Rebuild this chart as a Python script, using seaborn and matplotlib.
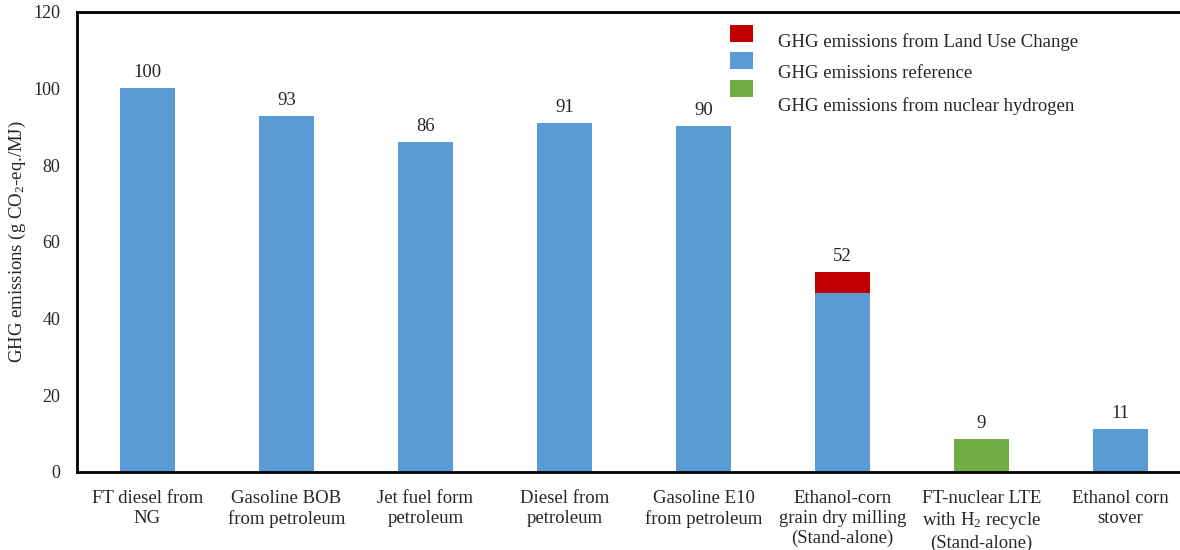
import matplotlib
matplotlib.use("Agg")
import matplotlib.pyplot as plt
from matplotlib.patches import Rectangle
import numpy as np
import pandas as pd
import seaborn as sns

# Fuel pathways and their life-cycle GHG emissions (g CO2-eq./MJ)
categories = [
    "FT diesel from\nNG",
    "Gasoline BOB\nfrom petroleum",
    "Jet fuel form\npetroleum",
    "Diesel from\npetroleum",
    "Gasoline E10\nfrom petroleum",
    "Ethanol-corn\ngrain dry milling\n(Stand-alone)",
    "FT-nuclear LTE\nwith H$_2$ recycle\n(Stand-alone)",
    "Ethanol corn\nstover",
]
reference = [100.2, 92.9, 86.1, 91.0, 90.3, 46.8, 0.0, 11.2]
land_use_change = [0.0, 0.0, 0.0, 0.0, 0.0, 5.5, 0.0, 0.0]
nuclear_hydrogen = [0.0, 0.0, 0.0, 0.0, 0.0, 0.0, 8.6, 0.0]

legend_labels = [
    "GHG emissions from Land Use Change",
    "GHG emissions reference",
    "GHG emissions from nuclear hydrogen",
]

BLUE = "#5B9BD5"
RED = "#C00000"
GREEN = "#70AD47"
TEXT = "#262626"

df = pd.DataFrame({
    "pathway": categories,
    "reference": reference,
    "luc": land_use_change,
    "nuclear": nuclear_hydrogen,
})
df["ref_plus_luc"] = df["reference"] + df["luc"]
df["total"] = df["reference"] + df["luc"] + df["nuclear"]

sns.set_style("white")
plt.rcParams["font.family"] = ["Liberation Serif", "DejaVu Serif"]
plt.rcParams["mathtext.fontset"] = "custom"
plt.rcParams["mathtext.rm"] = "Liberation Serif"
plt.rcParams["mathtext.it"] = "Liberation Serif:italic"

fig = plt.figure(figsize=(11.8, 5.5), dpi=100)
ax = fig.add_axes([77 / 1180, 78 / 550, 1 - 77 / 1180, (472 - 12) / 550])

bar_w = 0.396
# Stacked bars: the land-use-change segment sits on top of the reference segment
sns.barplot(data=df, x="pathway", y="ref_plus_luc", color=RED, width=bar_w,
            saturation=1, linewidth=0, ax=ax)
sns.barplot(data=df, x="pathway", y="reference", color=BLUE, width=bar_w,
            saturation=1, linewidth=0, ax=ax)
sns.barplot(data=df, x="pathway", y="nuclear", color=GREEN, width=bar_w,
            saturation=1, linewidth=0, ax=ax)

# Total value above each bar
for i, tot in enumerate(df["total"]):
    ax.annotate(f"{tot:.0f}", xy=(i, tot), xytext=(0, 5), textcoords="offset points",
                ha="center", va="bottom", fontsize=13.5, color=TEXT)

ax.set_xlim(-0.507, 7.428)
ax.set_ylim(0, 120)
ax.set_yticks(np.arange(0, 121, 20))
ax.tick_params(axis="both", length=0, colors=TEXT)
ax.tick_params(axis="y", pad=12, labelsize=13)
ax.tick_params(axis="x", pad=13, labelsize=13.5)
for lbl in ax.get_xticklabels():
    lbl.set_linespacing(1.22)
ax.set_xlabel("")
ax.set_ylabel("GHG emissions (g CO$_2$-eq./MJ)", fontsize=13.5, color=TEXT)
ax.yaxis.set_label_coords(-0.0445, 0.5)

for side in ["left", "top", "bottom"]:
    ax.spines[side].set_visible(True)
    ax.spines[side].set_color("black")
    ax.spines[side].set_linewidth(2)
ax.spines["right"].set_visible(False)

# Legend drawn as swatches and labels in the upper right
swatch_tops = [25, 52, 80]
text_centers = [42, 74, 106]
for color, top, tc, label in zip([RED, BLUE, GREEN], swatch_tops, text_centers, legend_labels):
    fig.add_artist(Rectangle((730 / 1180, 1 - (top + 17) / 550), 23 / 1180, 17 / 550,
                             transform=fig.transFigure, facecolor=color, edgecolor="none"))
    fig.text(778 / 1180, 1 - tc / 550, label, ha="left", va="center",
             fontsize=13.5, color=TEXT)

fig.savefig("out.png", dpi=100)
